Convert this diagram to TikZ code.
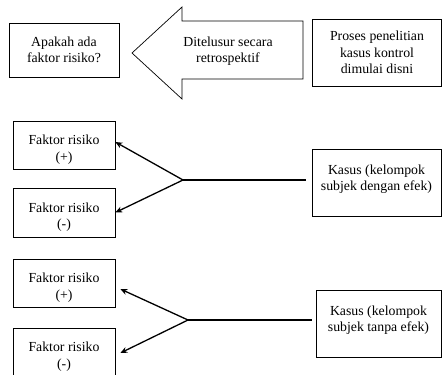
\documentclass[tikz,border=0pt]{standalone}
\usepackage{fontspec}
\setmainfont{Liberation Serif}
\usetikzlibrary{arrows.meta,positioning}

\newcommand{\turun}{\rule{0pt}{19pt}}
\newcommand{\naik}{\rule[-10pt]{0pt}{0pt}}

\tikzset{
  kotak/.style={draw, line width=0.7pt, align=center, inner sep=2pt,
    font=\fontsize{13.8}{16.5}\selectfont},
  panah/.style={line width=1.3pt, -{Stealth[length=7pt,width=6pt]}},
  garis/.style={line width=1.3pt}
}

\begin{document}
\begin{tikzpicture}[x=1pt,y=-1pt]
\useasboundingbox (0,0) rectangle (442,375);

% baris atas
\node[kotak, minimum width=110pt, minimum height=54pt] (tanya) at (64,50) {Apakah ada\\faktor risiko?};
\node[kotak, minimum width=129pt, minimum height=67pt] (mulai) at (377,52.5) {Proses penelitian\\kasus kontrol\\dimulai disni};
\draw[line width=0.7pt] (132,53) -- (182,7) -- (182,21) -- (303,21) -- (303,79)
  -- (182,79) -- (182,99) -- cycle;
\node[align=center, font=\fontsize{13.8}{16.5}\selectfont] (telusur) at (228,51) {Ditelusur secara\\retrospektif};

% kelompok kasus
\node[kotak, minimum width=102pt, minimum height=48pt] (plus1) at (64,145) {\turun Faktor risiko\\(+)};
\node[kotak, minimum width=102pt, minimum height=49pt] (min1) at (64,212.5) {\turun Faktor risiko\\(-)};
\node[kotak, minimum width=129pt, minimum height=67pt] (kasus1) at (376.5,182.5) {Kasus (kelompok\\subjek dengan efek)\naik};
\coordinate (cab1) at (183,180);
\draw[garis, shorten >=6pt] (cab1) -- (cab1 -| kasus1.west);
\draw[panah] (cab1) -- ([yshift=3pt]plus1.east);
\draw[panah] (cab1) -- (min1.east);

% kelompok kontrol
\node[kotak, minimum width=102pt, minimum height=48pt] (plus2) at (64,283) {\turun Faktor risiko\\(+)};
\node[kotak, minimum width=102pt, minimum height=48pt] (min2) at (64,352) {\turun Faktor risiko\\(-)};
\node[kotak, minimum width=125pt, minimum height=67pt] (kasus2) at (378.5,323.5) {Kasus (kelompok\\subjek tanpa efek)\naik};
\coordinate (cab2) at (188,320);
\draw[garis, shorten >=4pt] (cab2) -- (cab2 -| kasus2.west);
\draw[panah] (cab2) -- ([xshift=5pt,yshift=-6pt]plus2.east);
\draw[panah] (cab2) -- ([xshift=5pt,yshift=-1pt]min2.east);
\end{tikzpicture}
\end{document}
